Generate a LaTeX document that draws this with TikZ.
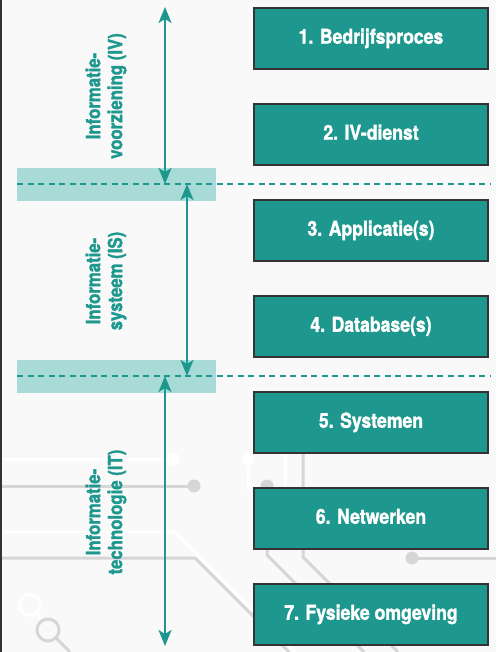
\documentclass[tikz,border=0pt]{standalone}
\usepackage{fontspec}
\setmainfont{TeX Gyre Heros}[FakeStretch=0.86, BoldFeatures={FakeBold=1.5}]
\usetikzlibrary{arrows.meta}
\definecolor{teal1}{HTML}{1E988E}
\definecolor{bandc}{HTML}{A8DBD8}
\definecolor{bgc}{HTML}{F9F9F9}
\definecolor{circ}{HTML}{D6D6D6}
\definecolor{edgec}{HTML}{333333}
\begin{document}
\begin{tikzpicture}[x=1pt,y=-1pt,
  layerbox/.style={draw=edgec, line width=1.5pt, fill=teal1, minimum width=234pt, minimum height=61pt,
    text=white, font=\bfseries\fontsize{20.5}{23}\selectfont, text height=14.5pt, text depth=4pt, inner sep=0pt},
  sidelabel/.style={rotate=90, align=center, text=teal1, font=\bfseries\fontsize{19.5}{22}\selectfont, inner sep=0pt},
  bandrect/.style={fill=bandc},
  sepline/.style={draw=teal1, line width=1.5pt, dash pattern=on 6pt off 4.5pt},
  spanarrow/.style={draw=teal1, line width=2pt, {Stealth[length=16pt,width=13pt,inset=4pt]}-{Stealth[length=16pt,width=13pt,inset=4pt]}},
  cgray/.style={draw=circ, line width=3pt},
  cwhite/.style={draw=white, line width=3pt},
  cdot/.style={fill=circ},
  wdot/.style={fill=white}
]
\fill[bgc] (0,0) rectangle (496,652);
\useasboundingbox (0,0) rectangle (496,652);
% background circuit
\draw[cwhite] (0,459) -- (173,459);
\fill[wdot] (173,459) circle (6.5);
\fill[wdot] (248,459) circle (6.5);
\draw[cwhite] (248,459) -- (248,490);
\draw[cwhite] (285,453) -- (285,490);
\draw[cwhite] (0,532) -- (175,532) -- (255,612) -- (295,652);
\draw[cgray] (0,486) -- (194,486);
\fill[cdot] (194,486) circle (6.5);
\fill[cdot] (267,486) circle (6.5);
\draw[cgray] (267,486) -- (267,555) -- (364,652);
\draw[cgray] (303,453) -- (303,557) -- (398,652);
\draw[cgray] (0,558) -- (195,558) -- (289,652);
\fill[cdot] (412,558) circle (6.5);
\draw[cgray] (412,558) -- (496,558);
\draw[cwhite] (30,605) circle (10.5);
\draw[cwhite] (37.5,612.5) -- (40,620);
\draw[cgray] (48,630) circle (11);
\draw[cgray] (55.8,637.8) -- (70,652);
% left border
\draw[edgec, line width=2pt] (1,0) -- (1,652);
% bands
\fill[bandrect] (17,168) rectangle (216,201);
\fill[bandrect] (17,360) rectangle (216,393);
% separators
\coordinate (s1a) at (17,184);
\coordinate (s1b) at (490,184);
\coordinate (s2a) at (17,376);
\coordinate (s2b) at (490,376);
\draw[sepline] (s1a) -- (s1b);
\draw[sepline] (s2a) -- (s2b);
% layer boxes
\node[layerbox] (b1) at (371,38.5) {1. Bedrijfsproces};
\node[layerbox] (b2) at (371,134.5) {2. IV-dienst};
\node[layerbox] (b3) at (371,230.5) {3. Applicatie(s)};
\node[layerbox] (b4) at (371,326.5) {4. Database(s)};
\node[layerbox] (b5) at (371,422.5) {5. Systemen};
\node[layerbox] (b6) at (371,518.5) {6. Netwerken};
\node[layerbox] (b7) at (371,614.5) {7. Fysieke omgeving};
% span arrows
\coordinate (a1t) at (165,7);
\coordinate (a1b) at (165,184);
\coordinate (a2t) at (187,184);
\coordinate (a2b) at (187,376);
\coordinate (a3t) at (165,376);
\coordinate (a3b) at (165,646);
\draw[spanarrow] (a1t) -- (a1b);
\draw[spanarrow] (a2t) -- (a2b);
\draw[spanarrow] (a3t) -- (a3b);
% side labels
\node[sidelabel] (lIV) at (106,96) {Informatie-\\voorziening (IV)};
\node[sidelabel] (lIS) at (106,281) {Informatie-\\systeem (IS)};
\node[sidelabel] (lIT) at (106,512) {Informatie-\\technologie (IT)};
\end{tikzpicture}
\end{document}
